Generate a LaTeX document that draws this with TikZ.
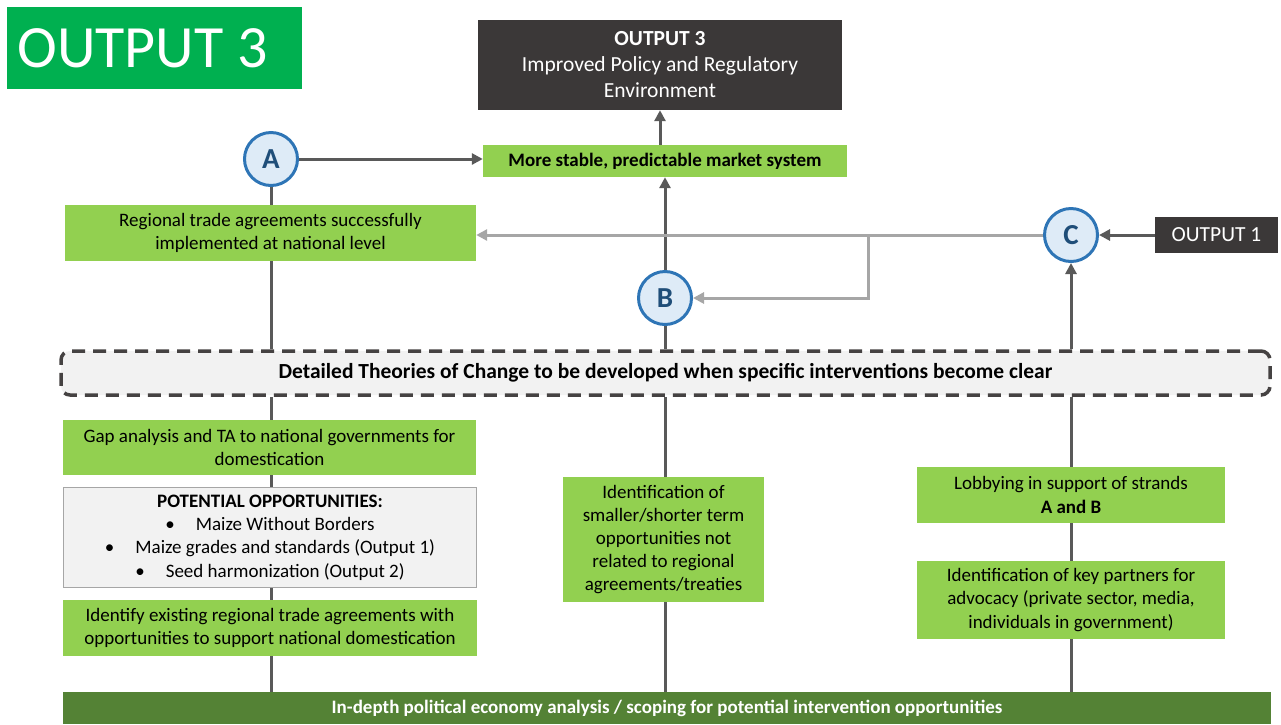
\documentclass[tikz,border=0pt]{standalone}
\usepackage{fontspec}
\setmainfont{Carlito}
\usetikzlibrary{arrows.meta,backgrounds}
\definecolor{hdrgreen}{HTML}{00B050}
\definecolor{boxgreen}{HTML}{92D050}
\definecolor{bargreen}{HTML}{548235}
\definecolor{darkbox}{HTML}{3B3838}
\definecolor{linegray}{HTML}{595959}
\definecolor{lightline}{HTML}{A6A6A6}
\definecolor{circfill}{HTML}{DEEBF7}
\definecolor{circline}{HTML}{2E75B6}
\definecolor{circtext}{HTML}{1F4E79}
\definecolor{panel}{HTML}{F2F2F2}
\tikzset{
  gbox/.style={fill=boxgreen, draw=none, align=center, inner sep=1pt,
    font=\fontsize{19}{23.3}\selectfont, text=black},
  dbox/.style={fill=darkbox, draw=none, align=center, text=white, inner sep=1pt},
  letter/.style={circle, fill=circfill, draw=circline, line width=3pt, minimum size=53,
    inner sep=0pt, text=circtext, font=\fontsize{29}{30}\selectfont\bfseries},
  conn/.style={draw=linegray, line width=3pt},
  arr/.style={conn, -{Triangle[length=11pt,width=11pt]}},
  garr/.style={draw=lightline, line width=3pt, -{Triangle[length=11pt,width=11pt]}},
  gline/.style={draw=lightline, line width=3pt},
}
\begin{document}
\begin{tikzpicture}[x=1pt,y=-1pt]
\useasboundingbox (0,0) rectangle (1281,724);

\node[fill=hdrgreen, minimum width=295, minimum height=82, text=white,
  font=\fontsize{60}{60}\selectfont, inner sep=0pt] (title) at (154.5,48) {\hspace*{-24pt}OUTPUT 3};

\node[dbox, minimum width=364, minimum height=90, font=\fontsize{21.5}{26}\selectfont]
  (out3) at (660,65) {\textbf{OUTPUT 3}\\Improved Policy and Regulatory\\Environment};

\node[gbox, minimum width=364, minimum height=32, font=\fontsize{19}{22}\selectfont\bfseries]
  (stable) at (665,161) {More stable, predictable market system};

\node[gbox, minimum width=411, minimum height=56] (regional) at (270.5,233)
  {Regional trade agreements successfully\\implemented at national level};

\node[letter] (cA) at (271,159) {A};
\node[letter] (cB) at (665,298) {B};
\node[letter] (cC) at (1071,235) {C};

\node[dbox, minimum width=123, minimum height=36, font=\fontsize{21.5}{22}\selectfont]
  (out1) at (1216.5,235) {OUTPUT 1};

\node[draw=darkbox!95, fill=panel, line width=3.5pt, dash pattern=on 13pt off 8pt,
  rounded corners=9pt, minimum width=1209, minimum height=44, inner sep=0pt,
  font=\fontsize{21.5}{22}\selectfont\bfseries] (toc) at (665.5,373)
  {Detailed Theories of Change to be developed when specific interventions become clear};

\node[gbox, minimum width=413, minimum height=55] (gap) at (269.5,447.5)
  {Gap analysis and TA to national governments for\\domestication};

\node[fill=panel, draw=lightline, line width=1pt, minimum width=413, minimum height=100,
  align=center, inner sep=1pt, font=\fontsize{19}{23.2}\selectfont] (pot) at (270,537.5)
  {\textbf{POTENTIAL OPPORTUNITIES:}\\
   •\hspace{21pt}Maize Without Borders\\
   •\hspace{21pt}Maize grades and standards (Output 1)\\
   •\hspace{21pt}Seed harmonization (Output 2)};

\node[gbox, minimum width=414, minimum height=56] (ident) at (270,628)
  {Identify existing regional trade agreements with\\opportunities to support national domestication};

\node[gbox, minimum width=201, minimum height=125, font=\fontsize{19}{23}\selectfont] (mid) at (663.5,539.5)
  {Identification of\\smaller/shorter term\\opportunities not\\related to regional\\agreements/treaties};

\node[gbox, minimum width=308, minimum height=56] (lobby) at (1071,495)
  {Lobbying in support of strands\\\textbf{A and B}};

\node[gbox, minimum width=308, minimum height=78] (partners) at (1071,600)
  {Identification of key partners for\\advocacy (private sector, media,\\individuals in government)};

\node[fill=bargreen, minimum width=1208, minimum height=32, text=white, inner sep=0pt,
  font=\fontsize{19}{20}\selectfont\bfseries] (bar) at (667,708)
  {In-depth political economy analysis / scoping for potential intervention opportunities};

\coordinate (br1) at (868,235);
\coordinate (br2) at (868,298);

% connectors
\draw[arr] (out3.south |- stable.north) -- (out3.south);
\draw[arr] (cA.east) -- (cA.east -| stable.west);
\draw[arr] (cB.north) -- (cB.north |- stable.south);
\draw[conn] (cA.south) -- (cA.south |- regional.north);
\draw[conn] (cA |- regional.south) -- (cA |- toc.north);
\draw[conn] (cB.south) -- (cB.south |- toc.north);
\draw[arr] (cC |- toc.north) -- (cC.south);
\draw[arr] (out1.west) -- (cC.east);
\draw[garr] (cC.west) -- (cC.west -| regional.east);
\draw[garr] (br1) -- (br2) -- (cB.east);

\begin{scope}[on background layer]
\draw[conn] (cA |- toc.south) -- (cA |- bar.north);
\draw[conn] (cB |- toc.south) -- (cB |- bar.north);
\draw[conn] (cC |- toc.south) -- (cC |- bar.north);
\end{scope}
\end{tikzpicture}
\end{document}
